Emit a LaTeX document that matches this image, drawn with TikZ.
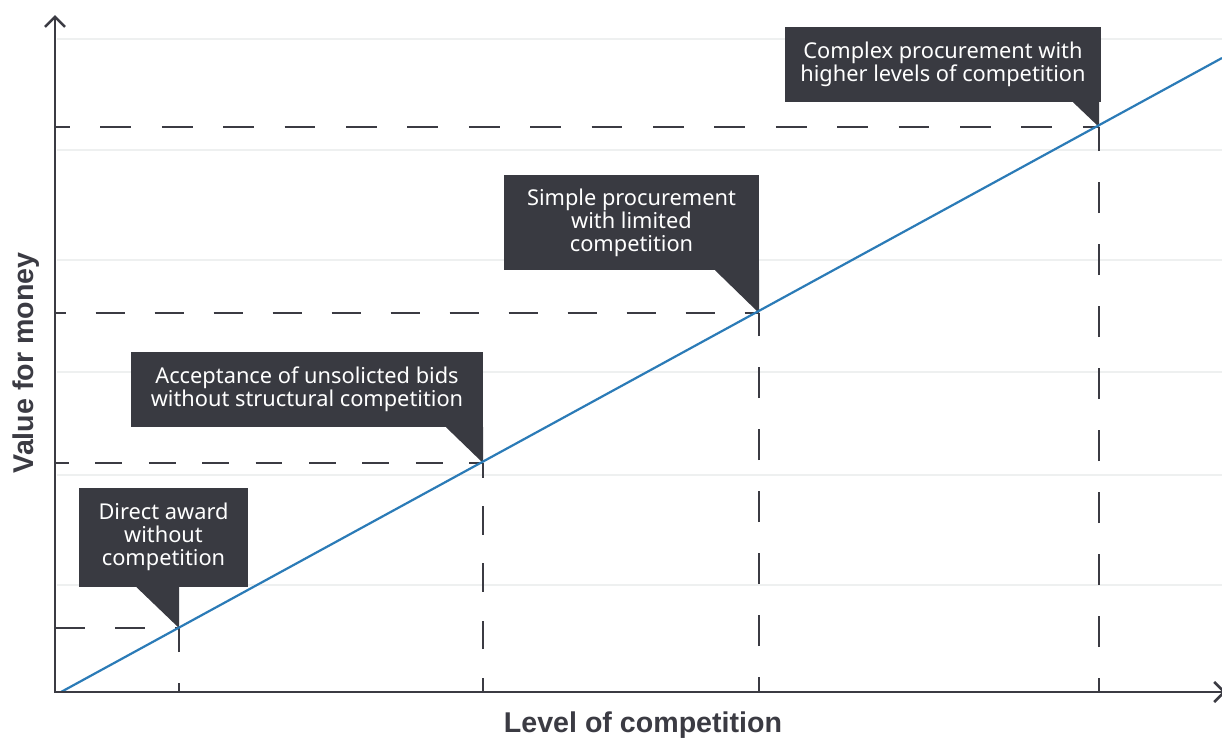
\documentclass[tikz,border=0pt]{standalone}
\usepackage{fontspec}
\setmainfont{Noto Sans}
\newfontfamily\labelfont{Liberation Sans}
\usetikzlibrary{arrows.meta}
\definecolor{axisc}{HTML}{3B3B43}
\definecolor{boxc}{HTML}{393A41}
\definecolor{bluec}{HTML}{2B7BB7}
\definecolor{gridc}{HTML}{EEF0F0}
\begin{document}
\begin{tikzpicture}[x=1pt,y=-1pt,
  callout/.style={fill=boxc, text=white, inner sep=0pt, align=center, font=\fontsize{21.8}{23}\selectfont},
  gridline/.style={draw=gridc, line width=2.4pt},
  axis/.style={draw=axisc, line width=2.6pt, arrows={Straight Barb[length=10pt,width=20pt]-Straight Barb[length=10pt,width=20pt]}},
  dl/.style 2 args={draw=axisc, line width=2.2pt, dash pattern=on #1 off #1, dash phase=#2},
  trend/.style={draw=bluec, line width=2.2pt},
  axislabel/.style={font=\labelfont\bfseries\fontsize{28.6}{30}\selectfont, text=axisc, inner sep=0pt}]
\useasboundingbox (0,0) rectangle (1222,740);
\fill[white] (0,0) rectangle (1222,740);
% key coordinates
\coordinate (O) at (55,692);
\coordinate (ytop) at (55,15);
\coordinate (xend) at (1226,692);
\coordinate (p1) at (179,628);
\coordinate (p2) at (483,463);
\coordinate (p3) at (759,313);
\coordinate (p4) at (1099,127);
\coordinate (s) at (61,692);
\coordinate (e) at (1222,58);
% grid
\foreach \gy in {39,150,260,372,475,585} \draw[gridline] (57,\gy) -- (1222,\gy);
% dashed guides
\draw[dl={30pt}{0pt}] (O |- p1) -- (p1);
\draw[dl={26.7pt}{13pt}] (O |- p2) -- (p2);
\draw[dl={29.5pt}{18.5pt}] (O |- p3) -- (p3);
\draw[dl={30.7pt}{16pt}] (O |- p4) -- (p4);
\draw[dl={31pt}{22pt}] (p1 |- O) -- (p1);
\draw[dl={28.6pt}{14.3pt}] (p2 |- O) -- (p2);
\draw[dl={31pt}{16pt}] (p3 |- O) -- (p3);
\draw[dl={31pt}{17pt}] (p4 |- O) -- (p4);
% callouts
\node[callout, minimum width=169pt, minimum height=99pt] (b1) at (163.5,537) {Direct award\\without\\competition};
\fill[boxc] (p1) -- (p1 |- b1.south) -- ++(-43,0) -- cycle;
\node[callout, minimum width=352pt, minimum height=75pt] (b2) at (307,389.5) {Acceptance of unsolicted bids\\without structural competition};
\fill[boxc] (p2) -- (p2 |- b2.south) -- ++(-37,0) -- cycle;
\node[callout, minimum width=255pt, minimum height=95pt] (b3) at (631.5,222.5) {Simple procurement\\with limited\\competition};
\fill[boxc] (p3) -- (p3 |- b3.south) -- ++(-44,0) -- cycle;
\node[callout, minimum width=316pt, minimum height=75pt] (b4) at (943,64.5) {Complex procurement with\\higher levels of competition};
\fill[boxc] (p4) -- (p4 |- b4.south) -- ++(-26,0) -- cycle;
% trend line
\draw[trend] (s) -- (e);
% axes
\draw[axis] (ytop) -- (O) -- (xend);
% axis labels
\node[axislabel, anchor=base] (xl) at (643,732) {Level of competition};
\node[axislabel, anchor=base, rotate=90] (yl) at (33,363) {Value for money};
\end{tikzpicture}
\end{document}
